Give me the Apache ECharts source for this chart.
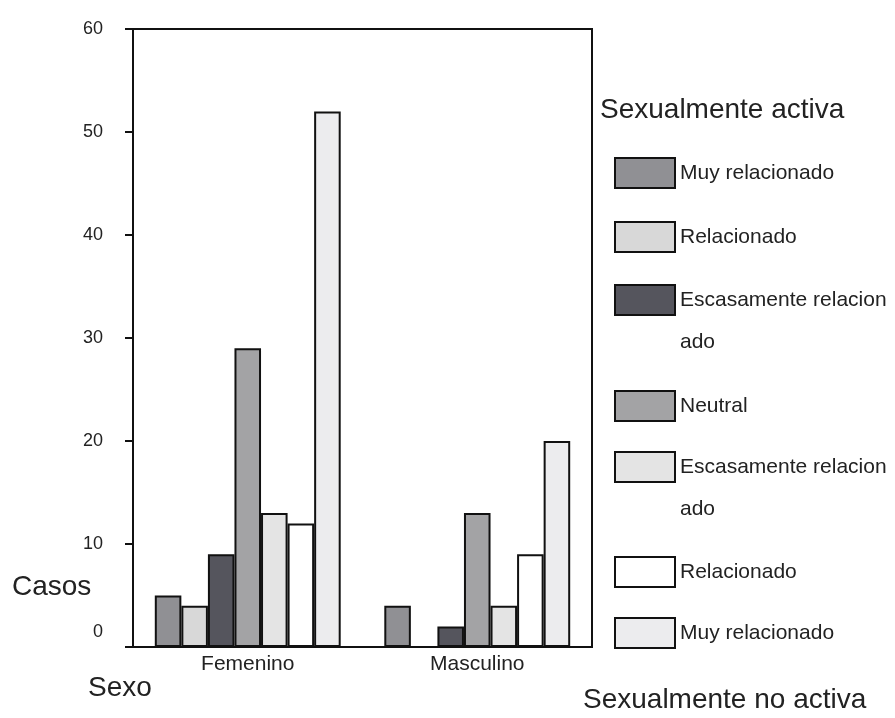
<!DOCTYPE html>
<html>
<head>
<meta charset="utf-8">
<script src="https://cdn.jsdelivr.net/npm/echarts@6/dist/echarts.min.js"></script>
<style>
  html, body { margin: 0; padding: 0; background: #fff; }
  #chart { width: 895px; height: 718px; }
</style>
</head>
<body>
<div id="chart"></div>
<script>
// categorías del eje x
const categories = ["Femenino", "Masculino"];
// nombres internos de las series (únicos) y texto de la leyenda
const seriesNames = ["muy_act", "rel_act", "esc_act", "neutral", "esc_noact", "rel_noact", "muy_noact"];
const legendLabels = [
  "Muy relacionado",
  "Relacionado",
  "\nEscasamente relacion\nado",
  "Neutral",
  "\nEscasamente relacion\nado",
  "Relacionado",
  "Muy relacionado",
];
// casos por serie: [Femenino, Masculino]
const muyAct = [5, 4];
const relAct = [4, 0];
const escAct = [9, 2];
const neutral = [29, 13];
const escNoAct = [13, 4];
const relNoAct = [12, 9];
const muyNoAct = [52, 20];
const seriesValues = [muyAct, relAct, escAct, neutral, escNoAct, relNoAct, muyNoAct];
// tonos de gris de cada barra
const barColors = ["#909094", "#d8d8d8", "#55555d", "#a3a3a5", "#e4e4e4", "#ffffff", "#ececee"];

const chart = echarts.init(document.getElementById("chart"));
const font = "Liberation Sans";

const seriesArr = seriesNames.map((name, i) => {
  return {
    name: name,
    type: "bar",
    data: seriesValues[i],
    barGap: "0%",
    barCategoryGap: "19%",
    itemStyle: {
      color: barColors[i],
      borderColor: "#111",
      borderWidth: 2,
    },
  };
});

// leyendas separadas para poder colocar cada una
const legendCenters = [172, 236, 300, 405, 467, 571, 632];
const legendArr = seriesNames.map((name, i) => {
  const wrapped = legendLabels[i].indexOf("\n") >= 0;
  return {
    data: [name],
    left: 614,
    top: wrapped ? legendCenters[i] - 63 : legendCenters[i] - 15,
    padding: 0,
    itemWidth: 60,
    itemHeight: 30,
    icon: "rect",
    selectedMode: false,
    formatter: () => legendLabels[i],
    itemStyle: { borderColor: "#111", borderWidth: 2 },
    textStyle: {
      fontFamily: font,
      fontSize: 21,
      color: "#222",
      lineHeight: wrapped ? 42 : 26,
    },
  };
});

const titleStyle = { fontFamily: font, fontSize: 28, fontWeight: "normal", color: "#222" };

const option = {
  backgroundColor: "#fff",
  animation: false,
  title: [
    { text: "Sexualmente activa", left: 600, top: 96, padding: 0, textStyle: titleStyle },
    { text: "Sexualmente no activa", left: 583, top: 686, padding: 0, textStyle: titleStyle },
    { text: "Casos", left: 12, top: 573, padding: 0, textStyle: titleStyle },
    { text: "Sexo", left: 88, top: 674, padding: 0, textStyle: titleStyle },
  ],
  legend: legendArr,
  grid: {
    left: 133,
    top: 29,
    right: 303,
    bottom: 71,
    show: true,
    borderColor: "#111",
    borderWidth: 2,
  },
  xAxis: {
    type: "category",
    data: categories,
    axisLine: { lineStyle: { color: "#111", width: 2 } },
    axisTick: { alignWithLabel: true, length: 5, lineStyle: { color: "#111", width: 2 } },
    axisLabel: { fontFamily: font, fontSize: 21, color: "#222", margin: 7 },
  },
  yAxis: {
    type: "value",
    min: 0,
    max: 60,
    interval: 10,
    splitLine: { show: false },
    axisLine: { show: true, lineStyle: { color: "#111", width: 2 } },
    axisTick: { show: true, length: 8, lineStyle: { color: "#111", width: 2 } },
    axisLabel: {
      fontFamily: font,
      fontSize: 18,
      color: "#222",
      margin: 30,
      formatter: (v) => (v === 0 ? "{z|0}" : String(v)),
      rich: { z: { fontFamily: font, fontSize: 18, color: "#222", padding: [0, 0, 30, 0] } },
    },
  },
  series: seriesArr,
};
chart.setOption(option);
</script>
</body>
</html>
